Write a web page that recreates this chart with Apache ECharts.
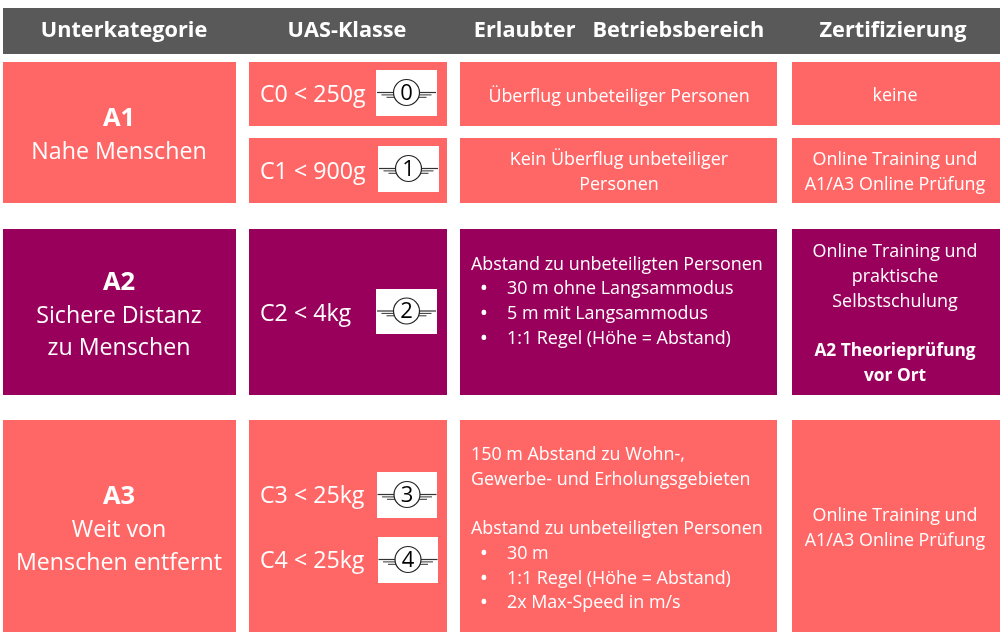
<!DOCTYPE html>
<html><head><meta charset="utf-8">
<style>html,body{margin:0;padding:0;background:#fff}#c{width:1000px;height:634px}</style>
<script src="https://cdn.jsdelivr.net/npm/echarts@6/dist/echarts.min.js"></script>
</head><body><div id="c"></div>
<script>
const headers = ['Unterkategorie', 'UAS-Klasse', 'Erlaubter   Betriebsbereich', 'Zertifizierung'];
const subcategoryCodes = ['A1', 'A2', 'A3'];
const subcategoryNames = [['Nahe Menschen'], ['Sichere Distanz', 'zu Menschen'], ['Weit von', 'Menschen entfernt']];
const uasClasses = ['C0 < 250g', 'C1 < 900g', 'C2 < 4kg', 'C3 < 25kg', 'C4 < 25kg'];
const badgeNumbers = ['0', '1', '2', '3', '4'];
const areaA0 = ['Überflug unbeteiliger Personen'];
const areaA1 = ['Kein Überflug unbeteiliger', 'Personen'];
const areaA2Intro = ['Abstand zu unbeteiligten Personen'];
const areaA2Bullets = ['30 m ohne Langsammodus', '5 m mit Langsammodus', '1:1 Regel (Höhe = Abstand)'];
const areaA3Intro = ['150 m Abstand zu Wohn-,', 'Gewerbe- und Erholungsgebieten'];
const areaA3Intro2 = ['Abstand zu unbeteiligten Personen'];
const areaA3Bullets = ['30 m', '1:1 Regel (Höhe = Abstand)', '2x Max-Speed in m/s'];
const certC0 = ['keine'];
const certC1 = ['Online Training und', 'A1/A3 Online Prüfung'];
const certA2 = ['Online Training und', 'praktische', 'Selbstschulung'];
const certA2Bold = ['A2 Theorieprüfung', 'vor Ort'];
const certA3 = ['Online Training und', 'A1/A3 Online Prüfung'];

const CORAL = '#ff6666', PURPLE = '#99005c', GREY = '#595959', FONT = '"Open Sans", "Noto Sans", sans-serif';
const S = 17.9, M = 23.2, B = 22;

// layout: [x0, y0, x1, y1, fill]
const rects = [
  [3, 8, 1000, 54, GREY],
  [3, 62, 236, 203, CORAL], [3, 229, 236, 395, PURPLE], [3, 420, 236, 632, CORAL],
  [249, 62, 447, 126, CORAL], [249, 138, 447, 203, CORAL], [249, 229, 447, 395, PURPLE], [249, 420, 447, 632, CORAL],
  [460, 62, 777, 126, CORAL], [460, 138, 777, 203, CORAL], [460, 229, 777, 395, PURPLE], [460, 420, 777, 632, CORAL],
  [792, 62, 1000, 125, CORAL], [792, 138, 1000, 203, CORAL], [792, 229, 1000, 395, PURPLE], [792, 420, 1000, 632, CORAL]
];
const badgeBoxes = [[376, 70, 437, 116], [378, 146, 439, 192], [376, 289, 437, 334], [377, 472, 437, 518], [378, 537, 438, 583]];

// layout: text, x, y, size, weight, align
const T = [];
const put = (lines, x, ys, size, weight, align) => lines.forEach((s, i) => T.push([s, x, ys[i] + 2, size, weight, align]));
headers.forEach((h, i) => T.push([h, [124, 347, 619, 893][i], 30.5, 21.7, 700, 'center']));
subcategoryCodes.forEach((s, i) => T.push([s, 119, [119, 283, 497][i], 25.5, 700, 'center']));
put(subcategoryNames[0], 119, [150], M, 400, 'center');
put(subcategoryNames[1], 119, [314, 346], M, 400, 'center');
put(subcategoryNames[2], 119, [528, 561], M, 400, 'center');
uasClasses.forEach((s, i) => T.push([s, 260, [95.5, 172, 314.5, 496.5, 561][i], M, 400, 'left']));
put(areaA0, 619, [95], S, 400, 'center');
put(areaA1, 619, [158, 183], S, 400, 'center');
put(areaA2Intro, 471, [263], S, 400, 'left');
put(areaA2Bullets, 507, [287, 312, 337], S, 400, 'left');
put(areaA2Bullets.map(() => '•'), 484, [287, 312, 337], B, 400, 'center');
put(areaA3Intro, 471, [453, 478], S, 400, 'left');
put(areaA3Intro2, 471, [527], S, 400, 'left');
put(areaA3Bullets, 507, [552, 577, 601], S, 400, 'left');
put(areaA3Bullets.map(() => '•'), 484, [552, 577, 601], B, 400, 'center');
put(certC0, 895, [94], S, 400, 'center');
put(certC1, 895, [158, 183], S, 400, 'center');
put(certA2, 895, [250, 275, 300], S, 400, 'center');
put(certA2Bold, 895, [349, 374], 17.3, 700, 'center');
put(certA3, 895, [514, 539], S, 400, 'center');

const chart = echarts.init(document.getElementById('c'), null, { renderer: 'canvas' });
const lineEl = (a, b, w) => ({ type: 'line', shape: { x1: a[0], y1: a[1], x2: b[0], y2: b[1] }, style: { stroke: '#333', lineWidth: w } });

chart.setOption({
  animation: false,
  backgroundColor: '#fff',
  grid: { left: 0, right: 0, top: 0, bottom: 0 },
  xAxis: { type: 'value', min: 0, max: 1000, show: false },
  yAxis: { type: 'value', min: 0, max: 634, inverse: true, show: false },
  tooltip: { show: false },
  series: [
    {
      type: 'custom', silent: true, coordinateSystem: 'cartesian2d', clip: false,
      data: rects.map((r, i) => [r[0], r[1], r[2], r[3], i]),
      encode: { x: [0, 2], y: [1, 3] },
      renderItem: (p, api) => {
        const a = api.coord([api.value(0), api.value(1)]), b = api.coord([api.value(2), api.value(3)]);
        return { type: 'rect', shape: { x: a[0], y: a[1], width: b[0] - a[0], height: b[1] - a[1] }, style: { fill: rects[api.value(4)][4] } };
      }
    },
    {
      type: 'custom', silent: true, coordinateSystem: 'cartesian2d', clip: false,
      data: badgeBoxes.map((r, i) => [r[0], r[1], r[2], r[3], i]),
      encode: { x: [0, 2], y: [1, 3] },
      renderItem: (p, api) => {
        const a = api.coord([api.value(0), api.value(1)]), b = api.coord([api.value(2), api.value(3)]);
        const cx = (a[0] + b[0]) / 2, cy = (a[1] + b[1]) / 2 - 0.5, R = 13;
        const kids = [
          { type: 'rect', shape: { x: a[0], y: a[1], width: b[0] - a[0], height: b[1] - a[1] }, style: { fill: '#fff' } }
        ];
        [[-1, 29.5, 0, 1.2], [-1, 25, 3, 1], [-1, 20, 6, 1], [1, 29.5, 0, 1.2], [1, 25, 3, 1], [1, 20, 6, 1]].forEach(w => {
          kids.push(lineEl([cx + w[0] * (R - 1), cy + w[2] * 0.8], [cx + w[0] * w[1], cy + w[2] * 0.8], w[3]));
        });
        kids.push({ type: 'circle', shape: { cx, cy, r: R }, style: { fill: '#fff', stroke: '#222', lineWidth: 1.2 } });
        kids.push({ type: 'text', style: { text: badgeNumbers[api.value(4)], x: cx, y: cy + 1, align: 'center', verticalAlign: 'middle', fill: '#000', font: '400 22px ' + FONT } });
        return { type: 'group', children: kids };
      }
    },
    {
      type: 'custom', silent: true, coordinateSystem: 'cartesian2d', clip: false,
      data: T.map((t, i) => [t[1], t[2], i]),
      encode: { x: 0, y: 1 },
      renderItem: (p, api) => {
        const t = T[api.value(2)], c = api.coord([t[1], t[2]]);
        return { type: 'text', style: { text: t[0], x: c[0], y: c[1], align: t[5], verticalAlign: 'middle', fill: '#fff', font: t[4] + ' ' + t[3] + 'px ' + FONT } };
      }
    }
  ]
});
</script></body></html>
